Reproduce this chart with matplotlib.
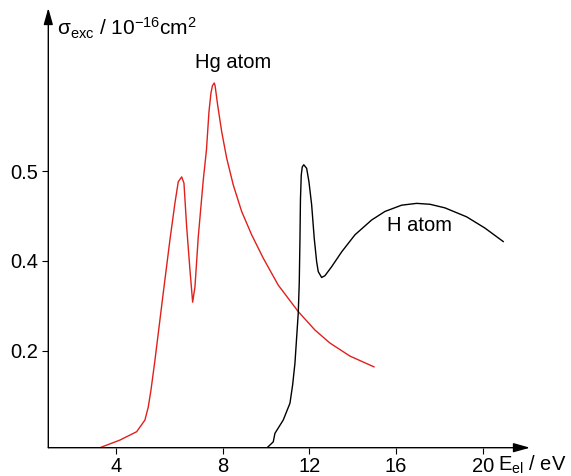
import numpy as np
import matplotlib.pyplot as plt

plt.rcParams['font.family'] = ['Liberation Sans', 'DejaVu Sans']
plt.rcParams['mathtext.fontset'] = 'custom'
plt.rcParams['mathtext.rm'] = 'Liberation Sans'
plt.rcParams['mathtext.it'] = 'Liberation Sans:italic'

# Hg atom excitation cross section (red)
hg_e = [2.342, 3.264, 4.034, 4.417, 4.569, 4.693, 4.878, 5.261, 5.569, 5.800,
        5.952, 6.109, 6.215, 6.339, 6.491, 6.616, 6.722, 6.874, 7.105, 7.252,
        7.368, 7.460, 7.529, 7.612, 7.650, 7.768, 7.953, 8.183, 8.488, 8.875,
        9.336, 9.871, 10.562, 11.485, 12.254, 12.946, 13.868, 14.975]
hg_s = [-0.016, 0.001, 0.0196, 0.0457, 0.0746, 0.112, 0.179, 0.329, 0.447, 0.529,
        0.576, 0.587, 0.573, 0.476, 0.380, 0.308, 0.342, 0.453, 0.580, 0.647,
        0.732, 0.774, 0.790, 0.796, 0.790, 0.747, 0.688, 0.629, 0.569, 0.510,
        0.458, 0.406, 0.346, 0.287, 0.246, 0.217, 0.188, 0.164]

# H atom excitation cross section (black)
h_e = [10.028, 10.332, 10.410, 10.793, 11.102, 11.226, 11.332, 11.485, 11.531, 11.563,
       11.586, 11.623, 11.669, 11.738, 11.872, 11.978, 12.102, 12.222, 12.333, 12.407,
       12.563, 12.716, 13.025, 13.486, 14.099, 14.869, 15.482, 16.252, 16.943, 17.557,
       18.248, 19.249, 20.092, 20.936]
h_s = [-0.017, -0.003, 0.016, 0.0457, 0.083, 0.124, 0.172, 0.284, 0.351, 0.447,
       0.536, 0.591, 0.609, 0.614, 0.606, 0.576, 0.525, 0.450, 0.398, 0.376,
       0.363, 0.367, 0.387, 0.420, 0.458, 0.491, 0.510, 0.524, 0.528, 0.526,
       0.518, 0.498, 0.473, 0.443]

x_tick_pos = [3.1, 8, 12, 16, 20]
x_tick_labels = ['4', '8', '12', '16', '20']
y_tick_pos = [0.2, 0.4, 0.6]
y_tick_labels = ['0.2', '0.4', '0.5']

fig = plt.figure(figsize=(5.71, 4.76), dpi=100)
ax = fig.add_axes([48.3 / 571, 28.3 / 476, (530 - 48.3) / 571, (447.7 - 8) / 476])

ax.plot(hg_e, hg_s, color='#e0201b', lw=1.0)
ax.plot(h_e, h_s, color='black', lw=1.0)

ax.set_xlim(-0.04, 22.17)
ax.set_ylim(-0.016, 0.963)

for side in ['top', 'right', 'left', 'bottom']:
    ax.spines[side].set_visible(False)

# axes with arrow heads
arr = dict(arrowstyle='-|>,head_length=1.0,head_width=0.28', lw=1.0, color='black',
           shrinkA=0, shrinkB=0)
ax.annotate('', xy=(1, 0), xytext=(0, 0), xycoords='axes fraction', arrowprops=arr)
ax.annotate('', xy=(0, 1), xytext=(0, 0), xycoords='axes fraction', arrowprops=arr)

ax.set_xticks(x_tick_pos)
ax.set_xticklabels(x_tick_labels)
ax.set_yticks(y_tick_pos)
ax.set_yticklabels(y_tick_labels)
ax.tick_params(axis='both', direction='out', length=4, width=0.8, labelsize=14.5)
ax.tick_params(axis='x', pad=2.5)
ax.tick_params(axis='y', pad=3)

ax.text(8.474, 0.841, 'Hg atom', fontsize=14.5, ha='center', va='center')
ax.text(17.096, 0.478, 'H atom', fontsize=14.5, ha='center', va='center')
ax.text(0.36, 0.918, r'σ$_{\mathrm{exc}}$ / 10$^{\mathrm{-16}}$cm$^{\mathrm{2}}$',
        fontsize=15, ha='left', va='center')
ax.text(20.69, -0.054, r'E$_{\mathrm{el}}$ / eV', fontsize=14.5, ha='left', va='center',
        clip_on=False)

fig.savefig('out.png', dpi=100)
